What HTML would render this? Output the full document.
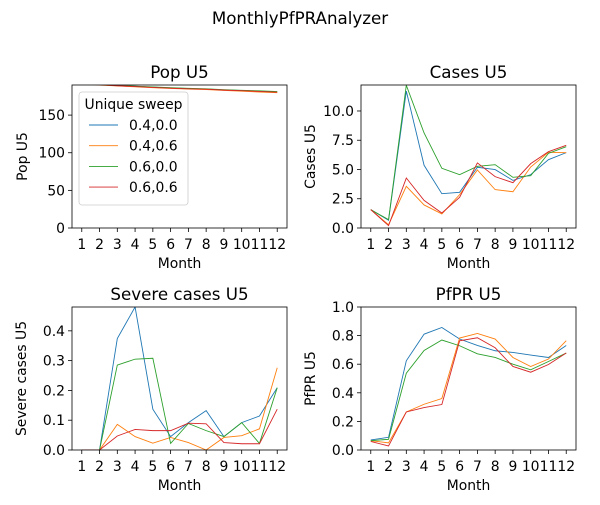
<!DOCTYPE html>
<html><head><meta charset="utf-8"><style>
body{margin:0;background:#fff}
svg{font-family:"DejaVu Sans","Liberation Sans",sans-serif}
</style></head><body>
<svg id="fig" width="600" height="500" xmlns="http://www.w3.org/2000/svg">
<rect width="600" height="500" fill="#fff"/>
<text x="300" y="24" font-size="16.7" text-anchor="middle">MonthlyPfPRAnalyzer</text>
<defs>
<clipPath id="c0"><rect x="72" y="85" width="215" height="143"/></clipPath>
<clipPath id="c1"><rect x="361" y="85" width="215" height="143"/></clipPath>
<clipPath id="c2"><rect x="72" y="307" width="215" height="143"/></clipPath>
<clipPath id="c3"><rect x="361" y="307" width="215" height="143"/></clipPath>
</defs>
</svg>
<script>
const months=[1,2,3,4,5,6,7,8,9,10,11,12];
const seriesNames=["0.4,0.0","0.4,0.6","0.6,0.0","0.6,0.6"];
const colors=["#1f77b4","#ff7f0e","#2ca02c","#d62728"];
const popB=[192,190.5,189.2,188.2,187,186,185.2,184.6,183.4,182.6,181.8,180.8];
const popO=[191.5,190,188.8,187.6,186.4,185.4,184.6,184,182.8,181.8,180.6,179.8];
const popG=[192.2,190.8,189.5,188.4,187.4,186.4,185.6,185,183.8,183,182.2,181.2];
const popR=[191.8,190.4,189,187.9,186.8,185.8,185,184.4,183.2,182.4,181.5,180.5];
const casesB=[1.57,0.66,11.7,5.36,2.93,3.05,5.19,4.99,4.07,4.56,5.84,6.44];
const casesO=[1.57,0.28,3.56,1.97,1.2,2.85,4.96,3.28,3.1,5.21,6.47,6.44];
const casesG=[1.57,0.71,12.2,8.12,5.1,4.56,5.27,5.41,4.33,4.47,6.38,6.95];
const casesR=[1.57,0.2,4.27,2.36,1.28,2.62,5.56,4.39,3.87,5.5,6.52,7.07];
const sevB=[0,0,0.374,0.48,0.137,0.045,0.092,0.132,0.045,0.092,0.114,0.209];
const sevO=[0,0,0.086,0.045,0.023,0.042,0.025,0,0.042,0.048,0.071,0.276];
const sevG=[0,0,0.285,0.305,0.308,0.022,0.089,0.065,0.045,0.092,0.022,0.209];
const sevR=[0,0,0.047,0.069,0.065,0.065,0.09,0.088,0.025,0.021,0.021,0.137];
const pfB=[0.07,0.089,0.624,0.81,0.857,0.776,0.731,0.694,0.682,0.664,0.647,0.731];
const pfO=[0.065,0.05,0.266,0.32,0.36,0.783,0.815,0.776,0.647,0.584,0.636,0.764];
const pfG=[0.065,0.075,0.537,0.696,0.769,0.729,0.673,0.647,0.6,0.561,0.619,0.678];
const pfR=[0.06,0.028,0.266,0.297,0.318,0.764,0.785,0.715,0.584,0.544,0.598,0.678];
const popTicks=[0,50,100,150];
const casesTicks=["0.0","2.5","5.0","7.5","10.0"];
const sevTicks=["0.0","0.1","0.2","0.3","0.4"];
const pfTicks=["0.0","0.2","0.4","0.6","0.8","1.0"];

const NS="http://www.w3.org/2000/svg";
const svg=document.getElementById('fig');
function mk(tag,attrs,parent){const e=document.createElementNS(NS,tag);for(const k in attrs)e.setAttribute(k,attrs[k]);(parent||svg).appendChild(e);return e;}

const panels=[
 {x:72,y:85,title:"Pop U5",ylab:"Pop U5",ymax:190,ticks:popTicks,data:[popB,popO,popG,popR],clip:"c0",key:"pop"},
 {x:361,y:85,title:"Cases U5",ylab:"Cases U5",ymax:12.22,ticks:casesTicks,data:[casesB,casesO,casesG,casesR],clip:"c1",key:"cases"},
 {x:72,y:307,title:"Severe cases U5",ylab:"Severe cases U5",ymax:0.48,ticks:sevTicks,data:[sevB,sevO,sevG,sevR],clip:"c2",key:"severe"},
 {x:361,y:307,title:"PfPR U5",ylab:"PfPR U5",ymax:1.0,ticks:pfTicks,data:[pfB,pfO,pfG,pfR],clip:"c3",key:"pfpr"}
];
const W=215,H=143;
panels.forEach(p=>{
 const g=mk('g',{});
 
 
 const sx=m=>p.x+W*(m-1+0.55)/12.1;
 const sy=v=>p.y+H-H*v/p.ymax;
 const t=mk('text',{x:p.x+W/2,y:p.y-7,'font-size':16.7,'text-anchor':'middle'},g);
 t.textContent=p.title;
 
 
 months.forEach(m=>{
  const X=sx(m);
  mk('line',{x1:X,x2:X,y1:p.y+H,y2:p.y+H+4,stroke:'#000','stroke-width':0.8},g);
  const l=mk('text',{x:X,y:p.y+H+21,'font-size':13.9,'text-anchor':'middle'},g);
  l.textContent=m;
  
  
 });
 p.ticks.forEach(tk=>{
  const Y=sy(parseFloat(tk));
  mk('line',{x1:p.x-4,x2:p.x,y1:Y,y2:Y,stroke:'#000','stroke-width':0.8},g);
  const l=mk('text',{x:p.x-7,y:Y+5,'font-size':13.9,'text-anchor':'end'},g);
  l.textContent=tk;
  
  
 });
 const xl=mk('text',{x:p.x+W/2,y:p.y+H+40,'font-size':13.9,'text-anchor':'middle'},g);
 xl.textContent="Month";
 
 
 const lx=p.key==="pop"?p.x-45:p.x-46;
 const yl=mk('text',{x:lx,y:p.y+H/2,'font-size':13.9,'text-anchor':'middle',transform:`rotate(-90 ${lx} ${p.y+H/2})`},g);
 yl.textContent=p.ylab;
 
 
 const lg=mk('g',{'clip-path':`url(#${p.clip})`},g);
 p.data.forEach((arr,i)=>{
  const pts=arr.map((v,k)=>sx(months[k])+','+sy(v)).join(' ');
  const pl=mk('polyline',{points:pts,fill:'none',stroke:colors[i],'stroke-width':0.9},lg);
  
  
 });
 mk('rect',{x:p.x,y:p.y,width:W,height:H,fill:'none',stroke:'#000','stroke-width':0.8},g);
});
const leg=mk('g',{});


mk('rect',{x:79,y:92,width:109,height:113,rx:3,fill:'#fff','fill-opacity':0.8,stroke:'#ccc','stroke-width':0.8},leg);
const lt=mk('text',{x:133.5,y:109,'font-size':13.9,'text-anchor':'middle'},leg);
lt.textContent="Unique sweep";


seriesNames.forEach((n,i)=>{
 const Y=125+i*20.7;
 const e=mk('g',{},leg);
 
 
 mk('line',{x1:89,x2:118,y1:Y,y2:Y,stroke:colors[i],'stroke-width':0.9},e);
 const tx=mk('text',{x:129,y:Y+5,'font-size':13.9},e);
 tx.textContent=n;
});
</script>
</body></html>
